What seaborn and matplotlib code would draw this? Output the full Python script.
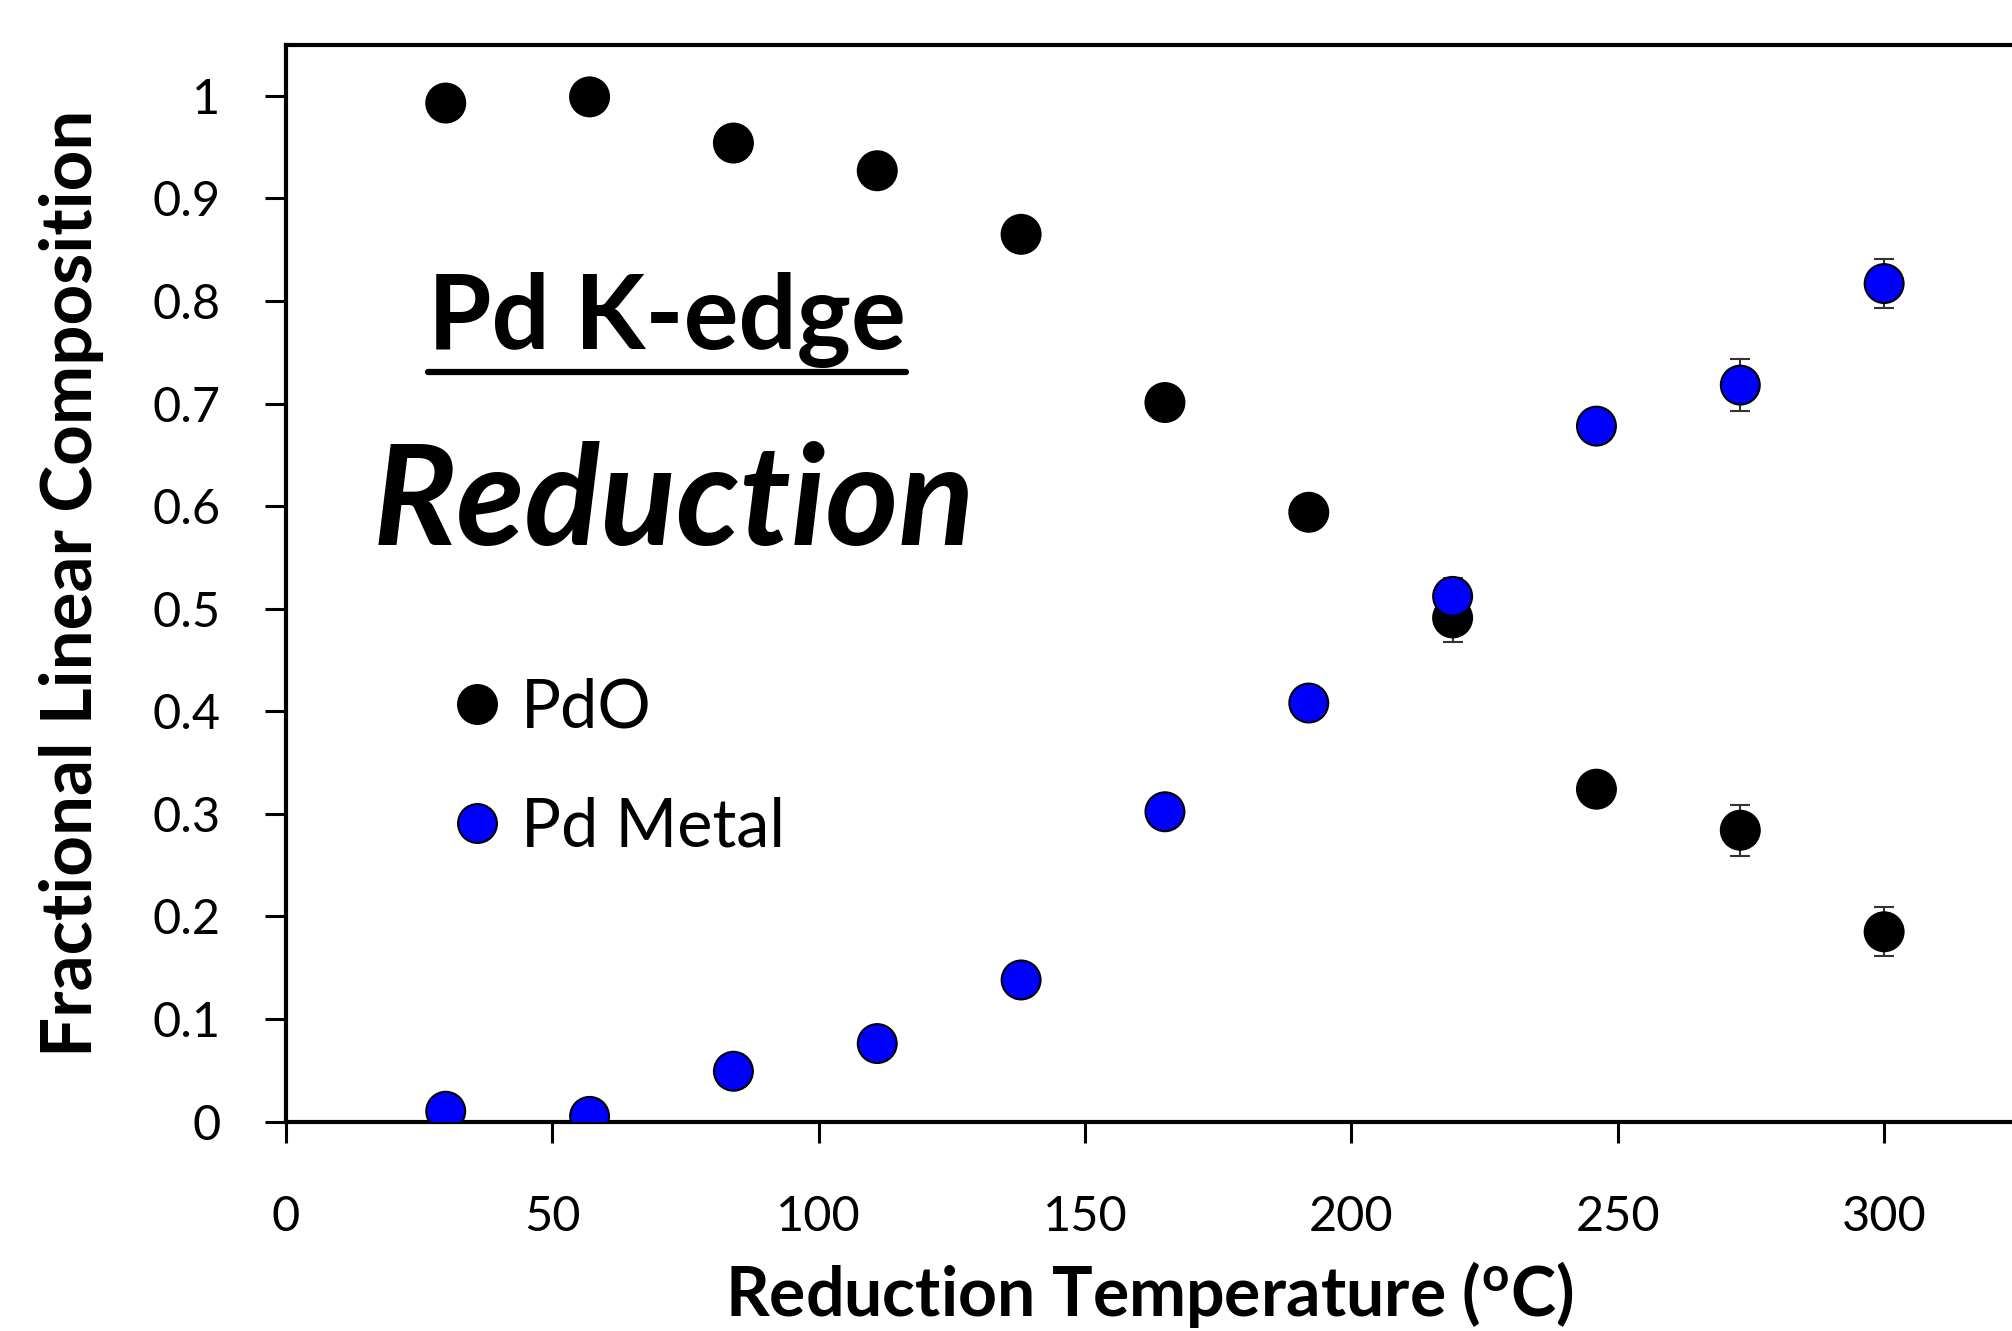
import numpy as np
import pandas as pd
import matplotlib
matplotlib.use("Agg")
import matplotlib.pyplot as plt
from matplotlib.lines import Line2D
import seaborn as sns

# data
temps = [30, 57, 84, 111, 138, 165, 192, 219, 246, 273, 300]
pdo = [0.993, 0.999, 0.954, 0.927, 0.865, 0.701, 0.594, 0.491, 0.324, 0.284, 0.185]
pd_metal = [0.010, 0.005, 0.049, 0.076, 0.138, 0.302, 0.408, 0.512, 0.678, 0.718, 0.817]
pdo_err = [0, 0, 0, 0, 0, 0, 0, 0.023, 0, 0.025, 0.024]
metal_err = [0, 0, 0, 0, 0, 0, 0, 0.018, 0, 0.025, 0.024]
labels = ["PdO", "Pd Metal"]
colors = ["#000000", "#0000ff"]
yticks = [0, 0.1, 0.2, 0.3, 0.4, 0.5, 0.6, 0.7, 0.8, 0.9, 1]
ytick_labels = ["0", "0.1", "0.2", "0.3", "0.4", "0.5", "0.6", "0.7", "0.8", "0.9", "1"]
xticks = [0, 50, 100, 150, 200, 250, 300]

sns.set_style("ticks")
plt.rcParams['font.family'] = ['Lato', 'DejaVu Sans']
plt.rcParams['mathtext.fontset'] = 'custom'
plt.rcParams['mathtext.rm'] = 'Lato:bold'
for k in ["text.color", "axes.labelcolor", "xtick.color", "ytick.color"]:
    plt.rcParams[k] = "black"

df = pd.DataFrame({
    "temp": temps * 2,
    "frac": pdo + pd_metal,
    "phase": [labels[0]] * len(temps) + [labels[1]] * len(temps),
})

fig = plt.figure(figsize=(20.12, 13.31), dpi=100)
ax = fig.add_axes([0.1421, 0.1574, 0.8579, 0.8091])

# error bars (only where visible)
for vals, errs in [(pdo, pdo_err), (pd_metal, metal_err)]:
    t = np.array(temps)
    v = np.array(vals)
    e = np.array(errs)
    m = e > 0
    ax.errorbar(t[m], v[m], yerr=e[m], fmt="none", ecolor="#333333",
                elinewidth=1.5, capsize=7, capthick=1.5, zorder=2)

sns.scatterplot(data=df, x="temp", y="frac", hue="phase",
                palette=dict(zip(labels, colors)), s=784,
                edgecolor="black", linewidth=1.5, legend=False, zorder=3, ax=ax)

ax.set_xlim(0, 324)
ax.set_ylim(0, 1.05)
ax.set_xticks(xticks)
ax.set_yticks(yticks)
ax.set_yticklabels(ytick_labels)
ax.tick_params(axis="both", labelsize=35, width=2.2, length=15, color="black")
ax.tick_params(axis="y", pad=32)
ax.tick_params(axis="x", pad=38)
for s in ["left", "bottom", "top"]:
    ax.spines[s].set_linewidth(3)
    ax.spines[s].set_color("black")
ax.spines["right"].set_visible(False)

ax.set_xlabel(r"Reduction Temperature ($\mathregular{^o}$C)", fontsize=49,
              fontweight="bold", labelpad=14)
ax.set_ylabel("Fractional Linear Composition", fontsize=51,
              fontweight="bold")
ax.yaxis.set_label_coords(-0.1054, 0.5)

# annotations
t1 = ax.text(0.2207, 0.717, "Pd K-edge", transform=ax.transAxes,
             ha="center", va="baseline", fontsize=74, fontweight="bold")
ax.text(0.2245, 0.5353, "Reduction", transform=ax.transAxes,
        ha="center", va="baseline", fontsize=101, fontweight="bold",
        style="italic")

# legend
handles = [Line2D([], [], marker="o", linestyle="none", markersize=28,
                  markerfacecolor=c, markeredgecolor="black",
                  markeredgewidth=1.5) for c in colors]
fig.legend(handles, labels, loc="upper left", bbox_to_anchor=(0.2207, 0.491),
           frameon=False, fontsize=48, handlelength=1.0, handletextpad=0.15,
           labelspacing=0.86, borderpad=0, borderaxespad=0)

# underline under Pd K-edge
fig.canvas.draw()
bb = t1.get_window_extent()
inv = fig.transFigure.inverted()
(x0, y0), (x1, _) = inv.transform([(bb.x0, bb.y0 - 4), (bb.x1, bb.y0)])
fig.add_artist(Line2D([x0, x1], [y0, y0], color="black", linewidth=4.5,
                      transform=fig.transFigure))

fig.savefig("out.png", dpi=100)
